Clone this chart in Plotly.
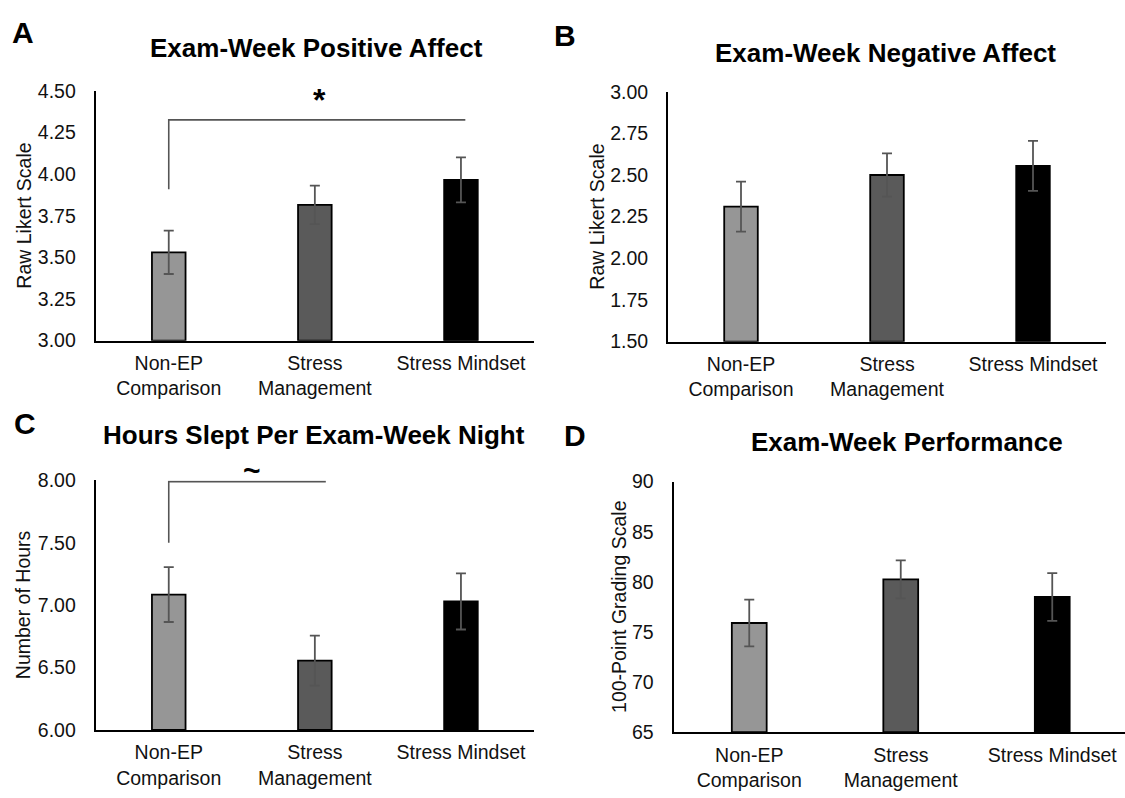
import plotly.graph_objects as go

# Groups shown on every panel
groups = ["Non-EP Comparison", "Stress Management", "Stress Mindset"]
group_labels = ["Non-EP<br>Comparison", "Stress<br>Management", "Stress Mindset"]
bar_colors = ["#969696", "#5a5a5a", "#000000"]

# Panel A: exam-week positive affect (mean, SE)
pos_mean = [3.53, 3.815, 3.965]
pos_err = [0.13, 0.115, 0.135]

# Panel B: exam-week negative affect
neg_mean = [2.31, 2.50, 2.555]
neg_err = [0.15, 0.13, 0.15]

# Panel C: hours slept per exam-week night
sleep_mean = [7.085, 6.555, 7.03]
sleep_err = [0.22, 0.20, 0.225]

# Panel D: exam-week performance
perf_mean = [75.9, 80.25, 78.5]
perf_err = [2.33, 1.9, 2.38]

W, H = 1125, 798
FONT = "Arial, Liberation Sans, sans-serif"


def px_x(p):
    return p / W


def px_y(p):
    return 1 - p / H


panels = [
    dict(key="", title="Exam-Week Positive Affect", ytitle="Raw Likert Scale",
         mean=pos_mean, err=pos_err, yr=[3.0, 4.5], dt=0.25, fmt=".2f",
         xd=(95.7, 534), yd=(82, 339), letter="A", lpos=(23, 22), tpos=(316, 38),
         ytpos=24),
    dict(key="2", title="Exam-Week Negative Affect", ytitle="Raw Likert Scale",
         mean=neg_mean, err=neg_err, yr=[1.5, 3.0], dt=0.25, fmt=".2f",
         xd=(668, 1106), yd=(83, 340), letter="B", lpos=(565, 25), tpos=(885, 43),
         ytpos=597),
    dict(key="3", title="Hours Slept Per Exam-Week Night", ytitle="Number of Hours",
         mean=sleep_mean, err=sleep_err, yr=[6.0, 8.0], dt=0.5, fmt=".2f",
         xd=(95.7, 534), yd=(482.7, 739.3), letter="C", lpos=(25, 424), tpos=(314, 436),
         ytpos=23),
    dict(key="4", title="Exam-Week Performance", ytitle="100-Point Grading Scale",
         mean=perf_mean, err=perf_err, yr=[65, 90], dt=5, fmt="d",
         xd=(673.5, 1125), yd=(484, 741.7), letter="D", lpos=(575, 437), tpos=(907, 443),
         ytpos=619),
]

fig = go.Figure()
annotations = []

for p in panels:
    k = p["key"]
    xa, ya = "x" + k, "y" + k
    lo, hi = p["yr"]
    # bars rise from the axis floor to the group mean
    fig.add_trace(go.Bar(
        x=[0, 1, 2], y=[m - lo for m in p["mean"]], base=lo,
        xaxis=xa, yaxis=ya,
        marker=dict(color=bar_colors, line=dict(color="#000000", width=1.8)),
        width=0.23,
        error_y=dict(type="data", array=p["err"], visible=True,
                     color="#555555", thickness=1.8, width=5),
        showlegend=False, hoverinfo="skip",
    ))

    x0, x1 = px_x(p["xd"][0]), px_x(p["xd"][1])
    y0, y1 = px_y(p["yd"][1]), px_y(p["yd"][0])
    n = int(round((hi - lo) / p["dt"]))
    tv = [lo + i * p["dt"] for i in range(n + 1)]
    tt = [f"{v:.2f}" if p["fmt"] == ".2f" else f"{int(round(v))}" for v in tv]

    xr = [-0.5, 2.5] if k != "4" else [-0.5, 2.5 - (1128 - 1125) / 151.5]
    fig.layout["xaxis" + k] = dict(
        domain=[x0, x1], anchor=ya, range=xr,
        tickmode="array", tickvals=[0, 1, 2], ticktext=group_labels,
        showline=True, linecolor="#000000", linewidth=2, ticks="",
        ticklabelstandoff=4,
        showgrid=False, zeroline=False, fixedrange=True,
        tickfont=dict(family=FONT, size=19.5, color="#111111"),
    )
    fig.layout["yaxis" + k] = dict(
        domain=[y0, y1], anchor=xa, range=[lo, hi],
        tickmode="array", tickvals=tv, ticktext=tt,
        showline=True, linecolor="#000000", linewidth=2, ticks="",
        ticklabelstandoff=14,
        showgrid=False, zeroline=False, fixedrange=True,
        tickfont=dict(family=FONT, size=19.5, color="#111111"),
    )

    annotations.append(dict(
        text=p["title"], xref="paper", yref="paper",
        x=px_x(p["tpos"][0]), y=px_y(p["tpos"][1]),
        xanchor="center", yanchor="middle", showarrow=False,
        font=dict(family=FONT, size=26, color="#000000", weight="bold"),
    ))
    annotations.append(dict(
        text=p["letter"], xref="paper", yref="paper",
        x=px_x(p["lpos"][0]), y=px_y(p["lpos"][1]),
        xanchor="center", yanchor="middle", showarrow=False,
        font=dict(family=FONT, size=30, color="#000000", weight="bold"),
    ))
    annotations.append(dict(
        text=p["ytitle"], xref="paper", yref="paper",
        x=px_x(p["ytpos"]), y=px_y((p["yd"][0] + p["yd"][1]) / 2),
        xanchor="center", yanchor="middle", textangle=-90, showarrow=False,
        font=dict(family=FONT, size=19.5, color="#111111"),
    ))

# Significance brackets
sig_pos_x = [0, 0, 2.03]
sig_pos_y = [3.908, 4.325, 4.325]
sig_sleep_x = [0, 0, 1.075]
sig_sleep_y = [7.50, 7.99, 7.99]

fig.add_trace(go.Scatter(
    x=sig_pos_x, y=sig_pos_y, xaxis="x", yaxis="y", mode="lines",
    line=dict(color="#555555", width=1.6), showlegend=False,
    hoverinfo="skip", cliponaxis=False,
))
fig.add_trace(go.Scatter(
    x=sig_sleep_x, y=sig_sleep_y, xaxis="x3", yaxis="y3", mode="lines",
    line=dict(color="#555555", width=1.6), showlegend=False,
    hoverinfo="skip", cliponaxis=False,
))
annotations.append(dict(
    text="*", xref="paper", yref="paper", x=px_x(319), y=px_y(92),
    xanchor="center", yanchor="middle", showarrow=False,
    font=dict(family=FONT, size=32, color="#000000", weight="bold"),
))
annotations.append(dict(
    text="~", xref="paper", yref="paper", x=px_x(252), y=px_y(473),
    xanchor="center", yanchor="middle", showarrow=False,
    font=dict(family=FONT, size=30, color="#000000", weight="bold"),
))

fig.update_layout(
    width=W, height=H,
    margin=dict(l=0, r=0, t=0, b=0),
    paper_bgcolor="#ffffff", plot_bgcolor="#ffffff",
    annotations=annotations,
    bargap=0.77,
)

fig.write_html("out.html", config={"displayModeBar": False})
